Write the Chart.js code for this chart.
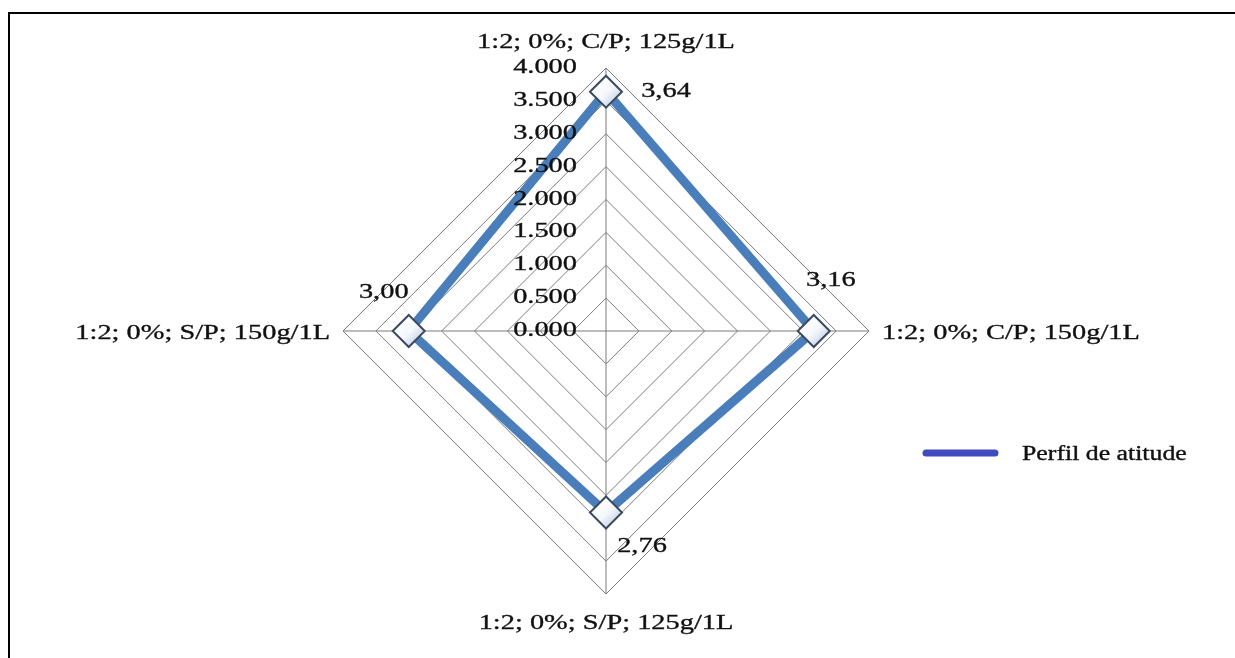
<!DOCTYPE html>
<html lang="pt">
<head>
<meta charset="utf-8">
<title>Perfil de atitude</title>
<script src="https://cdn.jsdelivr.net/npm/chart.js"></script>
<style>
  html, body { margin: 0; padding: 0; background: #ffffff; }
  #wrap { position: relative; width: 1235px; height: 658px; overflow: hidden; }
  canvas { display: block; }
</style>
</head>
<body>
<div id="wrap"><canvas id="radar" width="1235" height="658"></canvas></div>
<script>
// Formulações avaliadas (eixos do radar, a partir do topo, sentido horário)
const categories = [
  '1:2; 0%; C/P; 125g/1L',
  '1:2; 0%; C/P; 150g/1L',
  '1:2; 0%; S/P; 125g/1L',
  '1:2; 0%; S/P; 150g/1L'
];
// Média do perfil de atitude por formulação
const attitudeValues = [3.64, 3.16, 2.76, 3.00];
const seriesName = 'Perfil de atitude';
// Escala radial
const scaleMin = 0;
const scaleMax = 4;
const scaleStep = 0.5;

// Deslocamento de cada rótulo de valor em relação ao seu ponto (px)
const valueLabelOffsets = [[60, -2], [17, -53], [36, 32], [-25, -41]];

const TEXT_SX = 1.29;            // largura do texto (fonte esticada na horizontal)
const SERIF = '"Liberation Serif", "Times New Roman", serif';

function stretchedText(ctx, text, x, y, align, baseline, size) {
  ctx.save();
  ctx.translate(x, y);
  ctx.scale(TEXT_SX, 1);
  ctx.font = size + 'px ' + SERIF;
  ctx.fillStyle = '#111111';
  ctx.strokeStyle = '#111111';
  ctx.lineWidth = 0.35;
  ctx.textAlign = align;
  ctx.textBaseline = baseline;
  ctx.fillText(text, 0, 0);
  ctx.strokeText(text, 0, 0);
  ctx.restore();
}

// Moldura, fundo, rótulos da escala, dos eixos e dos valores, e legenda
const decorations = {
  id: 'decorations',
  beforeDraw(chart) {
    const ctx = chart.ctx;
    ctx.save();
    ctx.fillStyle = '#ffffff';
    ctx.fillRect(0, 0, chart.width, chart.height);
    ctx.fillStyle = '#000000';
    ctx.fillRect(8, 12, chart.width - 8, 2);
    ctx.fillRect(8, 12, 2, chart.height - 12);
    ctx.restore();
  },
  afterDatasetsDraw(chart) {
    const ctx = chart.ctx;
    const r = chart.scales.r;
    const cx = r.xCenter, cy = r.yCenter, rad = r.drawingArea;

    // rótulos numéricos da escala, à esquerda do eixo vertical
    r.ticks.forEach(t => {
      const y = cy - r.getDistanceFromCenterForValue(t.value);
      stretchedText(ctx, t.value.toFixed(3), cx - 29, y + 5, 'right', 'alphabetic', 22);
    });

    // rótulos das categorias nas pontas dos eixos
    categories.forEach((label, i) => {
      const p = r.getPointPosition(i, rad);
      if (i === 0) stretchedText(ctx, label, p.x, p.y - 20, 'center', 'alphabetic', 22);
      else if (i === 1) stretchedText(ctx, label, p.x + 13, p.y + 7.5, 'left', 'alphabetic', 22);
      else if (i === 2) stretchedText(ctx, label, p.x, p.y + 35, 'center', 'alphabetic', 22);
      else stretchedText(ctx, label, p.x - 13, p.y + 7.5, 'right', 'alphabetic', 22);
    });

    // valores de cada ponto
    const meta = chart.getDatasetMeta(0);
    meta.data.forEach((pt, i) => {
      const [dx, dy] = valueLabelOffsets[i];
      const txt = attitudeValues[i].toFixed(2).replace('.', ',');
      stretchedText(ctx, txt, pt.x + dx, pt.y + dy + 7.5, 'center', 'alphabetic', 22);
    });

    // legenda
    ctx.save();
    ctx.strokeStyle = '#3f4bbf';
    ctx.lineWidth = 7;
    ctx.lineCap = 'round';
    ctx.beginPath();
    ctx.moveTo(926, 453);
    ctx.lineTo(995, 453);
    ctx.stroke();
    ctx.restore();
    stretchedText(ctx, chart.data.datasets[0].label, 1022, 460, 'left', 'alphabetic', 20);
  }
};

new Chart(document.getElementById('radar'), {
  type: 'radar',
  data: {
    labels: categories,
    datasets: [{
      label: seriesName,
      data: attitudeValues,
      borderColor: '#4a7ebb',
      borderWidth: 9,
      fill: false,
      tension: 0,
      pointStyle: 'rectRot',
      pointRadius: 16,
      pointHoverRadius: 16,
      pointBorderWidth: 2,
      pointBorderColor: '#3b4a60',
      pointBackgroundColor: (c) => {
        const scale = c.chart.scales.r;
        if (!scale || c.type !== 'data') return '#ffffff';
        const p = scale.getPointPositionForValue(c.dataIndex, c.raw);
        const g = c.chart.ctx.createLinearGradient(p.x - 10, p.y - 10, p.x + 10, p.y + 10);
        g.addColorStop(0, '#ffffff');
        g.addColorStop(0.55, '#f4f7fb');
        g.addColorStop(1, '#c8d5e8');
        return g;
      }
    }]
  },
  options: {
    responsive: false,
    animation: false,
    devicePixelRatio: 1,
    layout: { padding: { left: 343, right: 366, top: 68, bottom: 64 } },
    plugins: {
      legend: { display: false },
      tooltip: { enabled: false }
    },
    scales: {
      r: {
        min: scaleMin,
        max: scaleMax,
        ticks: { stepSize: scaleStep, display: false },
        grid: { circular: false, color: '#7c7c7c', lineWidth: 1 },
        angleLines: { color: '#7a7a7a', lineWidth: 1 },
        pointLabels: { display: false }
      }
    }
  },
  plugins: [decorations]
});
</script>
</body>
</html>
